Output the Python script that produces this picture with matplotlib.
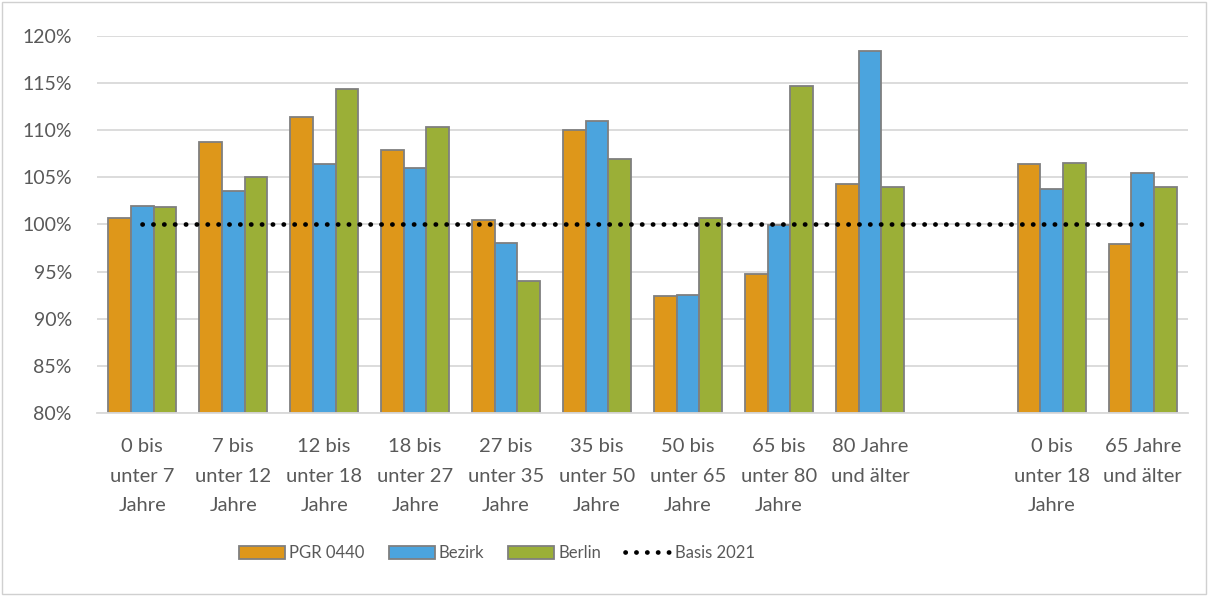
import matplotlib.pyplot as plt
import numpy as np
from matplotlib.patches import Rectangle

plt.rcParams['font.family'] = ['Lato', 'DejaVu Sans']

labels = ['0 bis\nunter 7\nJahre', '7 bis\nunter 12\nJahre', '12 bis\nunter 18\nJahre',
          '18 bis\nunter 27\nJahre', '27 bis\nunter 35\nJahre', '35 bis\nunter 50\nJahre',
          '50 bis\nunter 65\nJahre', '65 bis\nunter 80\nJahre', '80 Jahre\nund älter', '',
          '0 bis\nunter 18\nJahre', '65 Jahre\nund älter']
pgr = [100.7, 108.7, 111.4, 107.9, 100.5, 110.0, 92.4, 94.7, 104.3, np.nan, 106.4, 97.9]
bezirk = [101.9, 103.5, 106.4, 106.0, 98.0, 111.0, 92.5, 99.9, 118.4, np.nan, 103.8, 105.5]
berlin = [101.8, 105.0, 114.4, 110.3, 94.0, 106.9, 100.7, 114.7, 104.0, np.nan, 106.5, 104.0]
basis = [100] * len(labels)

c_pgr = '#DE971A'
c_bez = '#4BA4DE'
c_ber = '#9BAF37'
edge = '#7F7F7F'
txt = '#595959'

fig = plt.figure(figsize=(12.1, 5.96), dpi=100)
ax = fig.add_axes([0.080, 0.307, 0.902, 0.633])
fig.patches.append(Rectangle((0.002, 0.003), 0.995, 0.994, transform=fig.transFigure,
                             fill=False, edgecolor='#D0D0D0', linewidth=1))

x = np.arange(len(labels))
w = 0.25
b1 = ax.bar(x - w, np.array(pgr) - 80, w, bottom=80, color=c_pgr, edgecolor=edge, linewidth=1.3, label='PGR 0440', zorder=2)
b2 = ax.bar(x, np.array(bezirk) - 80, w, bottom=80, color=c_bez, edgecolor=edge, linewidth=1.3, label='Bezirk', zorder=2)
b3 = ax.bar(x + w, np.array(berlin) - 80, w, bottom=80, color=c_ber, edgecolor=edge, linewidth=1.3, label='Berlin', zorder=2)
ln, = ax.plot(x, basis, color='black', linewidth=3.4, linestyle=(0, (0.05, 2.25)),
              dash_capstyle='round', label='Basis 2021', zorder=3)

ax.set_xlim(-0.5, len(labels) - 0.5)
ax.set_ylim(80, 120)
ax.set_yticks(np.arange(80, 121, 5))
ax.set_yticklabels([f'{v}%' for v in range(80, 121, 5)], fontsize=14, color=txt)
ax.set_xticks(x)
ax.set_xticklabels(labels, fontsize=14.5, color=txt, linespacing=1.9)
ax.tick_params(axis='x', length=0, pad=18)
ax.tick_params(axis='y', length=0, pad=18)
ax.grid(axis='y', color='#D9D9D9', linewidth=1.3, zorder=0)
ax.set_axisbelow(True)
for s in ['top', 'right', 'left']:
    ax.spines[s].set_visible(False)
ax.spines['bottom'].set_color('#D9D9D9')
ax.spines['bottom'].set_linewidth(1.3)

leg = fig.legend(handles=[b1, b2, b3, ln], loc='center', bbox_to_anchor=(0.411, 0.072),
                 ncol=4, frameon=False, fontsize=12, handlelength=2.75, handleheight=0.85,
                 columnspacing=1.45, handletextpad=0.25)
for t in leg.get_texts():
    t.set_color(txt)

fig.savefig('out.png', dpi=100)
